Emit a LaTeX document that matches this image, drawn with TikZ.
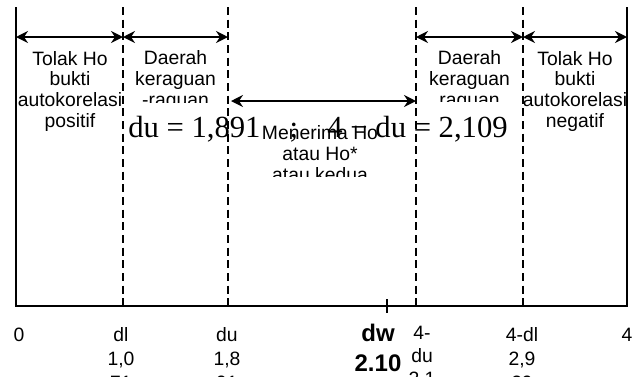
\documentclass[tikz,border=0pt]{standalone}
\usepackage{fontspec}
\setmainfont{Liberation Sans}
\newfontfamily\tnr{Liberation Serif}
\usetikzlibrary{arrows.meta}
\begin{document}
\begin{tikzpicture}[x=0.75pt,y=-0.75pt,
  lbl/.style={font=\fontsize{14.5}{15.5}\selectfont, align=center, inner sep=0pt, anchor=base},
  axlbl/.style={font=\fontsize{14.5}{18}\selectfont, align=center, inner sep=0pt, anchor=base},
  boldlbl/.style={font=\bfseries\fontsize{18}{22}\selectfont, align=center, inner sep=0pt, anchor=base},
  solidline/.style={line width=1.5pt},
  dline/.style={line width=1.4pt, dash pattern=on 6pt off 3.5pt},
  darr/.style={line width=1.5pt, {Stealth[length=9pt,width=9pt,inset=3pt]}-{Stealth[length=9pt,width=9pt,inset=3pt]}},
  big/.style={font=\tnr\fontsize{23}{27}\selectfont, inner sep=0pt}
]
\useasboundingbox (0,0) rectangle (640,376);
\clip (0,0) rectangle (640,376);

% frame coordinates
\coordinate (Ltop) at (16,7);
\coordinate (Lbot) at (16,306);
\coordinate (Rtop) at (627,7);
\coordinate (Rbot) at (627,306);
\coordinate (D1t) at (123,7);  \coordinate (D1b) at (123,306);
\coordinate (D2t) at (228,7);  \coordinate (D2b) at (228,306);
\coordinate (D3t) at (416,7);  \coordinate (D3b) at (416,306);
\coordinate (D4t) at (523,7);  \coordinate (D4b) at (523,306);
\coordinate (Tt) at (387,299); \coordinate (Tb) at (387,313);

% axes and boundaries
\draw[solidline] (Ltop) -- (Lbot) -- (Rbot) -- (Rtop);
\draw[solidline] (Tt) -- (Tb);
\draw[dline] (D1t) -- (D1b);
\draw[dline] (D2t) -- (D2b);
\draw[dline] (D3t) -- (D3b);
\draw[dline] (D4t) -- (D4b);

% arrows
\coordinate (a0) at (16,37);
\coordinate (a1) at (123,37);
\coordinate (a2) at (228,37);
\coordinate (a3) at (416,37);
\coordinate (a4) at (523,37);
\coordinate (a5) at (627,37);
\coordinate (m0) at (231,101);
\coordinate (m1) at (416,101);
\draw[darr] (a0) -- (a1);
\draw[darr] (a1) -- (a2);
\draw[darr] (a3) -- (a4);
\draw[darr] (a4) -- (a5);
\draw[darr] (m0) -- (m1);

% region texts (base anchor = baseline of the last line)
\node[lbl] (tolakL) at (70,127) {Tolak Ho\\bukti\\autokorelasi\\positif};
\begin{scope}
  \clip (124,40) rectangle (227,102);
  \node[lbl] (ragL) at (175.5,106.3) {Daerah\\keraguan\\-raguan};
\end{scope}
\begin{scope}
  \clip (417,40) rectangle (522,101);
  \node[lbl] (ragR) at (469.5,106.3) {Daerah\\keraguan\\raguan};
\end{scope}
\begin{scope}
  \clip (524,40) rectangle (626,130);
  \node[lbl] (tolakR) at (575,127) {Tolak Ho\\bukti\\autokorelasi\\negatif};
\end{scope}
\begin{scope}
  \clip (232,105) rectangle (414,176);
  \node[lbl] (terima) at (320,181.3) {Menerima Ho\\atau Ho*\\atau kedua};
\end{scope}

% big formula
\node[big, anchor=base west] (fL) at (128,137) {du = 1,891};
\node[big, anchor=base] (fS) at (294,137) {;};
\node[big, anchor=base east] (fR) at (508,137) {4 − du = 2,109};

% axis labels
\node[axlbl] (n0) at (19,341) {0};
\node[axlbl] (ndl) at (121,389) {dl\\1,0\\71};
\node[axlbl] (ndu) at (227,389) {du\\1,8\\91};
\node[boldlbl] (ndw) at (378,371) {dw\\2.10};
\node[axlbl, font=\fontsize{14.5}{17.25}\selectfont] (n4du) at (422,408) {4-\\du\\2,1\\09};
\node[axlbl] (n4dl) at (522,389) {4-dl\\2,9\\29};
\node[axlbl] (n4) at (627,341) {4};
\end{tikzpicture}
\end{document}
